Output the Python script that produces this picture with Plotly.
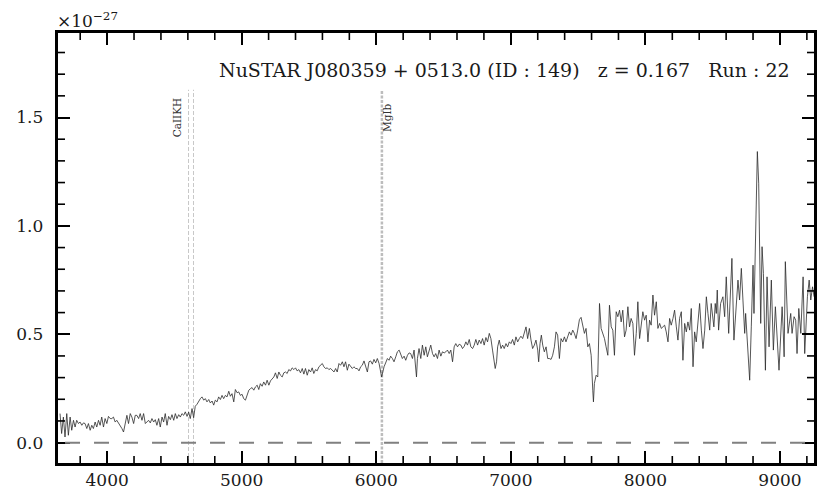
import plotly.graph_objects as go

# Observed wavelength (Angstrom) and flux (units of 1e-27)
wavelength = [
    3650, 3662, 3675, 3687, 3700, 3712, 3725, 3737, 3750, 3762, 3774, 3787, 3799, 3812, 3824, 3836,
    3849, 3861, 3874, 3886, 3898, 3911, 3923, 3936, 3948, 3960, 3973, 3985, 3998, 4010, 4023, 4035,
    4047, 4060, 4072, 4085, 4097, 4110, 4122, 4134, 4147, 4159, 4172, 4184, 4197, 4209, 4221, 4234,
    4246, 4259, 4271, 4284, 4296, 4308, 4321, 4333, 4346, 4358, 4370, 4383, 4395, 4408, 4420, 4432,
    4445, 4457, 4470, 4482, 4495, 4507, 4519, 4532, 4544, 4556, 4569, 4581, 4594,
    4606, 4618, 4631, 4643, 4655, 4668, 4680, 4693, 4705, 4718, 4730, 4742, 4755, 4767, 4780, 4792,
    4804, 4817, 4829, 4842, 4854, 4866, 4879, 4891, 4904, 4916, 4928, 4941, 4953, 4966, 4978, 4990,
    5003, 5015, 5028, 5040, 5053, 5065, 5077, 5090, 5102, 5115, 5127, 5139, 5152, 5164, 5177, 5189,
    5202, 5214, 5226, 5239, 5251, 5264, 5276, 5288, 5301, 5313, 5326, 5338, 5350, 5363, 5375, 5388,
    5400, 5412, 5425, 5437, 5450, 5462, 5474, 5487, 5499, 5512, 5524, 5536, 5549, 5561, 5574,
    5586, 5599, 5611, 5623, 5636, 5648, 5661, 5673, 5686, 5698, 5710, 5723, 5735, 5748, 5760, 5772,
    5785, 5797, 5810, 5822, 5834, 5847, 5859, 5872, 5884, 5896, 5909, 5921, 5934, 5946, 5958, 5971,
    5983, 5996, 6008, 6021, 6033, 6040, 6058, 6070, 6083, 6095, 6107, 6120, 6132, 6145, 6157, 6170,
    6182, 6194, 6207, 6219, 6232, 6244, 6256, 6269, 6281, 6299, 6306, 6318, 6331, 6343, 6356, 6368,
    6380, 6393, 6405, 6418, 6430, 6442, 6455, 6467, 6480, 6492, 6505, 6517, 6529, 6542,
    6554, 6567, 6579, 6591, 6604, 6616, 6629, 6641, 6654, 6666, 6678, 6691, 6703, 6716, 6728, 6740,
    6753, 6765, 6778, 6790, 6802, 6815, 6827, 6840, 6852, 6864, 6877, 6884, 6894, 6902, 6914, 6927,
    6939, 6951, 6964, 6976, 6989, 7001, 7013, 7026, 7038, 7051, 7063, 7075, 7088, 7100, 7113, 7125,
    7138, 7150, 7162, 7175, 7187, 7200, 7207, 7217, 7227, 7237, 7249, 7262, 7274, 7286, 7299, 7311,
    7324, 7336, 7348, 7361, 7373, 7386, 7398, 7410, 7423, 7435, 7448, 7460, 7472, 7485, 7497, 7510,
    7522, 7535, 7547, 7559, 7572, 7584, 7597, 7609, 7614, 7621, 7634, 7646, 7659, 7671, 7683, 7696,
    7708, 7721, 7733, 7746, 7758, 7770, 7783, 7795, 7808, 7820, 7832, 7845, 7857, 7870, 7882, 7894,
    7907, 7919, 7932, 7944, 7957, 7969, 7981, 7994, 8006, 8019, 8031, 8043, 8056, 8068, 8081, 8093,
    8106, 8118, 8130, 8143, 8155, 8168, 8180, 8192, 8205, 8217, 8230, 8242, 8254, 8267, 8279, 8292,
    8304, 8316, 8329, 8341, 8354, 8366, 8378, 8391, 8403, 8416, 8428, 8441, 8453, 8465, 8478,
    8489, 8509, 8519, 8527, 8534, 8544, 8559, 8576, 8589, 8601, 8619, 8643, 8658, 8671, 8688, 8700,
    8713, 8725, 8738, 8745, 8762, 8775, 8787, 8800, 8807, 8820, 8832, 8842, 8849, 8857, 8867, 8877,
    8892, 8904, 8919, 8936, 8951, 8966, 8993, 9016, 9023, 9031, 9040, 9060, 9080, 9090, 9105, 9117,
    9127, 9140, 9155, 9172, 9184, 9204, 9217, 9229, 9242, 9254,
]
flux = [
    0.134, 0.042, 0.118, 0.026, 0.134, 0.034, 0.118, 0.057, 0.103, 0.072, 0.103, 0.088, 0.095, 0.080, 0.091, 0.088,
    0.065, 0.088, 0.057, 0.080, 0.065, 0.095, 0.072, 0.103, 0.080, 0.118, 0.072, 0.111, 0.088, 0.121, 0.111, 0.111,
    0.118, 0.095, 0.103, 0.091, 0.080, 0.065, 0.049, 0.095, 0.126, 0.088, 0.134, 0.118, 0.088, 0.126, 0.126, 0.111,
    0.134, 0.103, 0.134, 0.088, 0.095, 0.103, 0.091, 0.111, 0.095, 0.106, 0.080, 0.111, 0.072, 0.118, 0.095, 0.134,
    0.080, 0.121, 0.106, 0.129, 0.103, 0.134, 0.111, 0.129, 0.118, 0.134, 0.126, 0.142, 0.121,
    0.141, 0.111, 0.157, 0.115, 0.168, 0.177, 0.192, 0.203, 0.211, 0.196, 0.203, 0.188, 0.199, 0.183, 0.192, 0.173,
    0.196, 0.188, 0.211, 0.199, 0.218, 0.203, 0.218, 0.211, 0.237, 0.214, 0.226, 0.188, 0.245, 0.230, 0.234, 0.218,
    0.223, 0.203, 0.196, 0.218, 0.242, 0.249, 0.254, 0.242, 0.257, 0.265, 0.245, 0.272, 0.260, 0.280, 0.265, 0.288,
    0.265, 0.285, 0.296, 0.303, 0.322, 0.296, 0.326, 0.311, 0.303, 0.322, 0.326, 0.319, 0.337, 0.331, 0.345, 0.337,
    0.345, 0.331, 0.337, 0.322, 0.342, 0.316, 0.342, 0.311, 0.337, 0.326, 0.345, 0.319, 0.337, 0.331, 0.350,
    0.357, 0.365, 0.350, 0.342, 0.345, 0.337, 0.342, 0.334, 0.326, 0.342, 0.326, 0.365, 0.357, 0.373, 0.350, 0.373,
    0.334, 0.362, 0.350, 0.342, 0.350, 0.342, 0.342, 0.331, 0.350, 0.357, 0.377, 0.357, 0.326, 0.373, 0.377, 0.362,
    0.384, 0.368, 0.388, 0.365, 0.326, 0.303, 0.350, 0.365, 0.388, 0.380, 0.399, 0.388, 0.373, 0.396, 0.419, 0.427,
    0.411, 0.388, 0.399, 0.380, 0.403, 0.414, 0.411, 0.388, 0.427, 0.303, 0.388, 0.434, 0.388, 0.450, 0.403, 0.442,
    0.396, 0.427, 0.450, 0.411, 0.396, 0.411, 0.388, 0.427, 0.399, 0.419, 0.414, 0.419, 0.427, 0.411,
    0.427, 0.373, 0.442, 0.457, 0.442, 0.454, 0.450, 0.434, 0.445, 0.465, 0.450, 0.476, 0.442, 0.434, 0.450, 0.476,
    0.450, 0.473, 0.457, 0.480, 0.450, 0.485, 0.465, 0.504, 0.480, 0.427, 0.365, 0.342, 0.373, 0.442, 0.473, 0.434,
    0.450, 0.434, 0.457, 0.442, 0.465, 0.457, 0.476, 0.450, 0.488, 0.465, 0.480, 0.491, 0.480, 0.504, 0.534, 0.480,
    0.527, 0.473, 0.434, 0.450, 0.473, 0.427, 0.373, 0.457, 0.496, 0.450, 0.419, 0.442, 0.388, 0.388, 0.384, 0.403,
    0.442, 0.511, 0.496, 0.388, 0.480, 0.465, 0.488, 0.465, 0.496, 0.511, 0.496, 0.519, 0.504, 0.480, 0.519, 0.568,
    0.578, 0.534, 0.504, 0.527, 0.442, 0.457, 0.403, 0.242, 0.188, 0.273, 0.311, 0.303, 0.642, 0.527, 0.504, 0.480,
    0.442, 0.403, 0.634, 0.534, 0.519, 0.403, 0.604, 0.581, 0.611, 0.557, 0.611, 0.488, 0.519, 0.627, 0.534, 0.573,
    0.550, 0.403, 0.504, 0.650, 0.480, 0.534, 0.604, 0.565, 0.588, 0.465, 0.565, 0.542, 0.681, 0.588, 0.650, 0.527,
    0.550, 0.527, 0.534, 0.542, 0.511, 0.465, 0.573, 0.542, 0.573, 0.611, 0.534, 0.473, 0.573, 0.604, 0.380, 0.550,
    0.511, 0.557, 0.519, 0.619, 0.350, 0.511, 0.465, 0.573, 0.642, 0.519, 0.434, 0.519, 0.673, 0.596, 0.519,
    0.642, 0.534, 0.642, 0.596, 0.704, 0.519, 0.642, 0.673, 0.581, 0.765, 0.504, 0.850, 0.473, 0.596, 0.750, 0.658,
    0.804, 0.658, 0.504, 0.596, 0.411, 0.288, 0.534, 0.819, 0.596, 0.935, 1.343, 1.197, 0.858, 0.550, 0.904, 0.781,
    0.334, 0.765, 0.442, 0.750, 0.427, 0.627, 0.334, 0.627, 0.534, 0.396, 0.835, 0.504, 0.596, 0.504, 0.581, 0.565,
    0.411, 0.619, 0.504, 0.765, 0.411, 0.673, 0.750, 0.658, 0.719, 0.673,
]

# Spectral line markers
line_labels = ["CaIIKH", "MgIb"]
line_label_x = [4518, 6076]
ca_waves = [4605, 4642]
mg_waves = [6042]

x_tick_vals = [4000, 5000, 6000, 7000, 8000, 9000]
y_tick_vals = [0.0, 0.5, 1.0, 1.5]

title_text = "NuSTAR J080359 + 0513.0 (ID : 149)\u00a0\u00a0\u00a0z = 0.167\u00a0\u00a0\u00a0Run : 22"

XMIN, XMAX = 3635, 9253
YMIN, YMAX = -0.094, 1.89
FONT = "DejaVu Serif"

# axis decoration: minor tick positions between the labelled ones
x_minor = [v for v in range(3800, 9201, 200) if v % 1000 != 0]
y_minor = [round(k * 0.1, 1) for k in range(1, 19) if k % 5 != 0]

fig = go.Figure()
fig.add_trace(go.Scatter(x=wavelength, y=flux, mode="lines",
                         line=dict(color="#2b2b2b", width=0.8), showlegend=False,
                         hoverinfo="skip"))

shapes = []
# zero line
shapes.append(dict(type="line", xref="paper", yref="y", x0=0.0093, x1=1.0, y0=0, y1=0,
                   line=dict(color="#808080", width=2, dash="15px,14px"), layer="above"))
for w in ca_waves:
    shapes.append(dict(type="line", xref="x", yref="y", x0=w, x1=w, y0=YMIN, y1=1.628,
                       line=dict(color="#c8c8c8", width=1, dash="4px,2px"), layer="below"))
for w in mg_waves:
    shapes.append(dict(type="line", xref="x", yref="y", x0=w, x1=w, y0=YMIN, y1=1.628,
                       line=dict(color="#bdbdbd", width=2.5, dash="3px,1.5px"), layer="below"))

# minor inward ticks drawn as short segments in data coordinates
XT_MIN = 7 / 430 * (YMAX - YMIN)
YT_MIN = 7 / 756 * (XMAX - XMIN)
for v in x_minor:
    shapes.append(dict(type="line", xref="x", yref="y", x0=v, x1=v, y0=YMIN, y1=YMIN + XT_MIN,
                       line=dict(color="black", width=1.6), layer="above"))
    shapes.append(dict(type="line", xref="x", yref="y", x0=v, x1=v, y0=YMAX, y1=YMAX - XT_MIN,
                       line=dict(color="black", width=1.6), layer="above"))
for v in y_minor:
    shapes.append(dict(type="line", xref="x", yref="y", x0=XMIN, x1=XMIN + YT_MIN, y0=v, y1=v,
                       line=dict(color="black", width=1.6), layer="above"))
    shapes.append(dict(type="line", xref="x", yref="y", x0=XMAX, x1=XMAX - YT_MIN, y0=v, y1=v,
                       line=dict(color="black", width=1.6), layer="above"))

annotations = [
    dict(text=title_text, xref="paper", yref="paper", x=0.971, y=0.9145, xanchor="right",
         yanchor="middle", showarrow=False, font=dict(family=FONT, size=19, color="#1a1a1a")),
    dict(text="\u00d710<sup>\u221227</sup>", xref="paper", yref="paper", x=0.0, y=1.0,
         xanchor="left", yanchor="bottom", xshift=-3, yshift=0, showarrow=False,
         font=dict(family=FONT, size=17, color="#1a1a1a")),
]
for lab, lx in zip(line_labels, line_label_x):
    annotations.append(dict(text=lab, xref="x", yref="y", x=lx, y=1.5, textangle=-90,
                            showarrow=False, xanchor="center", yanchor="middle",
                            font=dict(family=FONT, size=10.5, color="#333333")))

axis_common = dict(showline=True, linecolor="black", linewidth=2.5, mirror="allticks",
                   ticks="inside", ticklen=12, tickwidth=2.2, tickcolor="#000000",
                   showgrid=False, zeroline=False, automargin=False, layer="above traces",
                   tickfont=dict(family=FONT, size=17, color="#1a1a1a"))

# The page body keeps its default 8px margin, so the figure is sized and
# offset to land the plot area where the reference has it.
fig.update_layout(
    width=822, height=490,
    margin=dict(l=50, r=16, t=25, b=35, autoexpand=False),
    paper_bgcolor="white", plot_bgcolor="white",
    shapes=shapes, annotations=annotations,
    xaxis=dict(range=[XMIN, XMAX], tickmode="array", tickvals=x_tick_vals,
               ticktext=[str(v) for v in x_tick_vals], **axis_common),
    yaxis=dict(range=[YMIN, YMAX], tickmode="array", tickvals=y_tick_vals,
               ticktext=[f"{v:.1f}\u2002" for v in y_tick_vals], **axis_common),
)

fig.write_html("out.html", config={"displayModeBar": False})
